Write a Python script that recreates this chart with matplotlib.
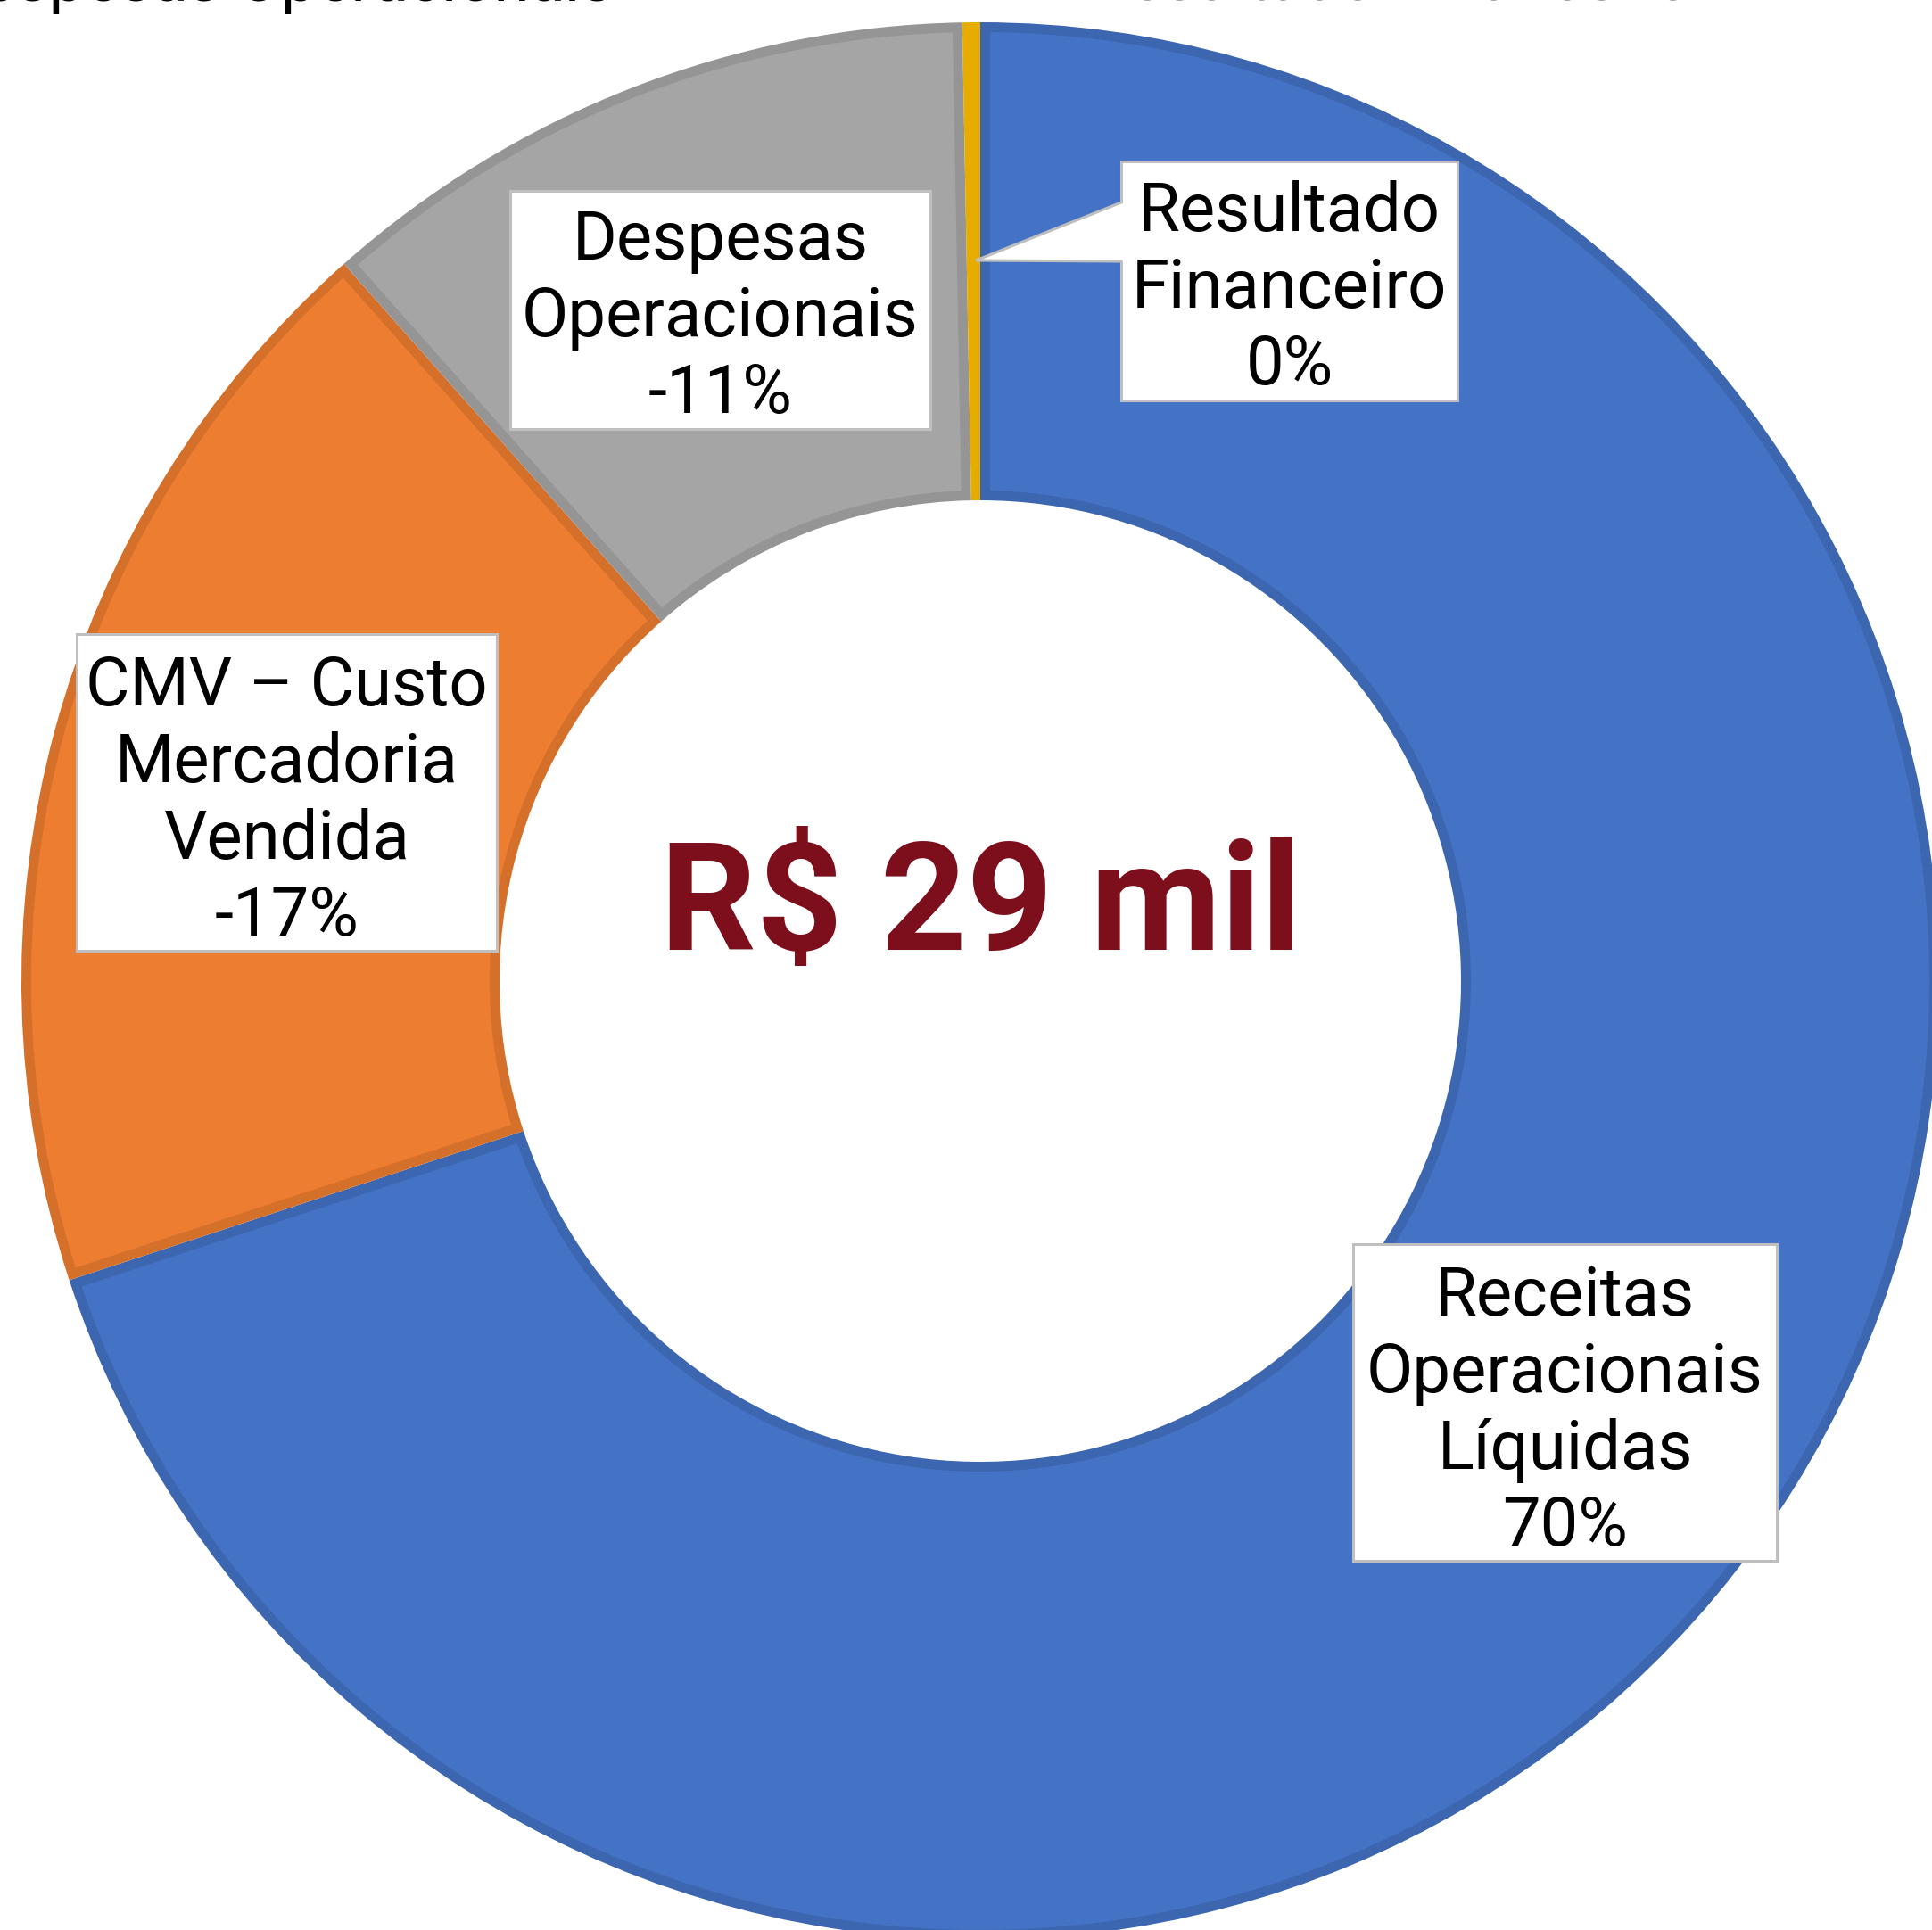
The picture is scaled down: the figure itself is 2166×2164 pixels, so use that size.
import numpy as np
import matplotlib
matplotlib.use("Agg")
import matplotlib.pyplot as plt
from matplotlib.patches import Rectangle, Polygon

# ---------------- data ----------------
categories = ["Receitas Operacionais Líquidas", "CMV – Custo Mercadoria Vendida",
              "Despesas Operacionais", "Resultado Financeiro"]
shares = [69.95, 18.5, 11.25, 0.3]            # angular share of the ring
label_pct = ["70%", "-17%", "-11%", "0%"]      # printed label values
label_lines = [["Receitas", "Operacionais", "Líquidas"],
               ["CMV – Custo", "Mercadoria", "Vendida"],
               ["Despesas", "Operacionais"],
               ["Resultado", "Financeiro"]]
center_text = "R$ 29 mil"
top_texts = ["Despesas Operacionais", "Resultado Financeiro"]

fill_colors = ["#4472C4", "#ED7D31", "#A5A5A5", "#FFC000"]
edge_colors = ["#3C66B0", "#D5702B", "#959595", "#E6AD00"]

# ---------------- layout (pixels, from top-left) ----------------
W, H = 2166, 2164
cx, cy, R, r = 1099, 1100, 1075, 539
border = 11
boxes = [(1517, 1395, 1992, 1750), (86, 711, 557, 1066),
         (572, 214, 1043, 481), (1257, 181, 1634, 449)]
first_baseline = [1475, 791, 291, 259]
pitch = 86

FONT = ["Roboto", "DejaVu Sans"]

fig = plt.figure(figsize=(W / 100, H / 100), dpi=100)
ax = fig.add_axes([0, 0, 1, 1])


def Y(y):
    return H - y


wedges, _ = ax.pie(shares, center=(cx, Y(cy)), radius=R, startangle=90,
                   counterclock=False, wedgeprops=dict(width=R - r, linewidth=0))
ax.set_aspect("auto")
ax.set_xlim(0, W)
ax.set_ylim(0, H)
ax.axis("off")

# each slice: darker border drawn inside the slice, lighter fill inset
for w, fc, ec in zip(wedges, fill_colors, edge_colors):
    w.set_facecolor(ec)
    t1, t2 = sorted((w.theta1, w.theta2))
    ro, ri = R - border, r + border
    pts = []
    ok = True
    for rho, rev in ((ro, False), (ri, True)):
        d = np.degrees(np.arcsin(border / rho))
        a1, a2 = t1 + d, t2 - d
        if a2 <= a1:
            ok = False
            break
        ang = np.radians(np.linspace(a1, a2, 400))
        if rev:
            ang = ang[::-1]
        pts.extend(zip(cx + rho * np.cos(ang), Y(cy) + rho * np.sin(ang)))
    if ok:
        ax.add_patch(Polygon(pts, closed=True, facecolor=fc, edgecolor="none",
                             zorder=w.get_zorder() + 0.1))

renderer = fig.canvas.get_renderer()


def fit_size(text, target_px, weight="normal"):
    t = ax.text(0, 0, text, fontsize=50, family=FONT, weight=weight)
    wpx = t.get_window_extent(renderer).width
    t.remove()
    return 50 * target_px / wpx


label_fs = fit_size("Operacionais", 445)
center_fs = fit_size(center_text, 718, weight="bold")

# callout pointer for Resultado Financeiro
tip = (1094, 292)
p_top = (1257, 227)
p_bot = (1257, 293)

# label boxes
for i, (x0, y0, x1, y1) in enumerate(boxes):
    ax.add_patch(Rectangle((x0, Y(y1)), x1 - x0, y1 - y0, facecolor="white",
                           edgecolor="#BFBFBF", linewidth=2.2, zorder=5))
    lines = label_lines[i] + [label_pct[i]]
    xc = (x0 + x1) / 2
    for k, ln in enumerate(lines):
        ax.text(xc, Y(first_baseline[i] + k * pitch), ln, ha="center", va="baseline",
                fontsize=label_fs, family=FONT, color="black", zorder=7)

ax.add_patch(Polygon([(tip[0], Y(tip[1])), (p_top[0] + 3, Y(p_top[1])),
                      (p_bot[0] + 3, Y(p_bot[1]))], closed=True,
                     facecolor="white", edgecolor="none", zorder=6))
ax.plot([p_top[0], tip[0], p_bot[0]], [Y(p_top[1]), Y(tip[1]), Y(p_bot[1])],
        color="#BFBFBF", linewidth=2.2, zorder=6, solid_joinstyle="miter")

# centre value
ax.text(cx, Y(1065), center_text, ha="center", va="baseline", fontsize=center_fs,
        family=FONT, weight="bold", color="#7D0F1D", zorder=7)

# partially visible texts cut by the top edge
ax.text(688, Y(1), top_texts[0], ha="right", va="baseline", fontsize=label_fs * 0.95,
        family=FONT, color="black")
ax.text(1221, Y(-1), top_texts[1], ha="left", va="baseline", fontsize=label_fs * 0.95,
        family=FONT, color="#404040")

fig.savefig("out.png", dpi=100)
